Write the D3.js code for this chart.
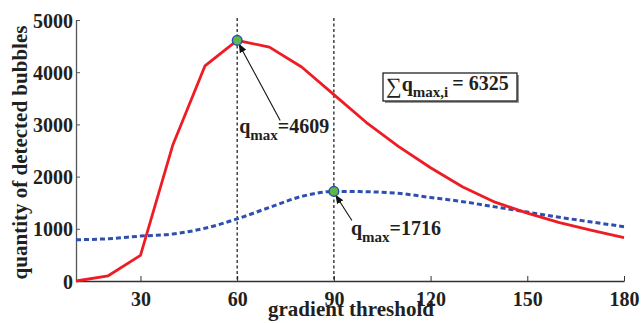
<!DOCTYPE html>
<html>
<head>
<meta charset="utf-8">
<script src="https://cdn.jsdelivr.net/npm/d3@7"></script>
<style>
  body { margin: 0; background: #fff; }
</style>
</head>
<body>
<svg id="chart" width="642" height="323"></svg>
<script>
// data
const thresholds = [10, 20, 30, 40, 50, 60, 70, 80, 90, 100, 110, 120, 130, 140, 150, 160, 170, 180];
const redSeries = [0, 100, 490, 2600, 4120, 4609, 4480, 4100, 3570, 3040, 2580, 2170, 1800, 1510, 1300, 1120, 970, 830];
const blueSeries = [790, 810, 860, 900, 1010, 1190, 1410, 1620, 1716, 1710, 1680, 1600, 1520, 1420, 1320, 1220, 1130, 1040];
const xTicks = [30, 60, 90, 120, 150, 180];
const yTicks = [0, 1000, 2000, 3000, 4000, 5000];
const peaks = [
  { x: 60, y: 4609, label: "4609" },
  { x: 90, y: 1716, label: "1716" }
];
const sumLabel = "6325";

const FONT = "Liberation Serif";
const INK = "#231f20";

const svg = d3.select("#chart");
const mLeft = 76, mRight = 624, mTop = 20, mBottom = 281;

const x = d3.scaleLinear().domain([10, 180]).range([mLeft, mRight]);
const y = d3.scaleLinear().domain([0, 5000]).range([mBottom, mTop]);

// axes
const xAxis = svg.append("g")
  .attr("transform", "translate(0," + mBottom + ")")
  .call(d3.axisBottom(x).tickValues(xTicks).tickFormat(d3.format("d"))
    .tickSizeInner(-5).tickSizeOuter(0).tickPadding(9));
xAxis.attr("font-family", FONT);
xAxis.select(".domain").attr("stroke", "#333").attr("stroke-width", 1.3);
xAxis.selectAll(".tick line").attr("stroke", "#333");
xAxis.selectAll("text")
  .attr("fill", INK)
  .attr("font-size", 20).attr("font-weight", "bold").attr("dy", "0.78em");

const yAxis = svg.append("g")
  .attr("transform", "translate(" + mLeft + ",0)")
  .call(d3.axisLeft(y).tickValues(yTicks).tickFormat(d3.format("d"))
    .tickSizeInner(-4).tickSizeOuter(0).tickPadding(3));
yAxis.attr("font-family", FONT);
yAxis.select(".domain").attr("stroke", "#555").attr("stroke-width", 1.3);
yAxis.selectAll(".tick line").attr("stroke", "#555");
yAxis.selectAll("text")
  .attr("fill", INK)
  .attr("font-size", 20).attr("font-weight", "bold").attr("dy", "0.35em");

// axis titles
svg.append("text")
  .attr("x", (mLeft + mRight) / 2 + 1).attr("y", 316)
  .attr("font-family", FONT).attr("fill", INK)
  .attr("text-anchor", "middle").attr("font-size", 21).attr("font-weight", "bold")
  .text("gradient threshold");
svg.append("text")
  .attr("transform", "translate(27," + ((mTop + mBottom) / 2 + 2) + ") rotate(-90)")
  .attr("font-family", FONT).attr("fill", INK)
  .attr("text-anchor", "middle").attr("font-size", 21).attr("font-weight", "bold")
  .text("quantity of detected bubbles");

// vertical dashed guides at the peaks
svg.selectAll(".guide")
  .data(peaks)
  .enter()
  .append("line")
  .attr("class", "guide")
  .attr("x1", d => x(d.x)).attr("x2", d => x(d.x))
  .attr("y1", y(5000) - 2).attr("y2", mBottom)
  .attr("stroke", "#111").attr("stroke-width", 1.2).attr("stroke-dasharray", "3,2.5");

svg.append("path")
  .datum(blueSeries)
  .attr("d", d3.line().x((d, i) => x(thresholds[i])).y(d => y(d)).curve(d3.curveMonotoneX))
  .attr("fill", "none")
  .attr("stroke", "#2f4fb0")
  .attr("stroke-width", 3)
  .attr("stroke-dasharray", "5,3");

svg.append("path")
  .datum(redSeries)
  .attr("d", d3.line().x((d, i) => x(thresholds[i])).y(d => y(d)))
  .attr("fill", "none")
  .attr("stroke", "#ee1c24")
  .attr("stroke-width", 2.8)
  .attr("stroke-linejoin", "round");

// arrowhead
svg.append("defs").append("marker")
  .attr("id", "arrow")
  .attr("viewBox", "0 0 10 10")
  .attr("refX", 9).attr("refY", 5)
  .attr("markerWidth", 9).attr("markerHeight", 9)
  .attr("markerUnits", "userSpaceOnUse")
  .attr("orient", "auto")
  .append("path")
  .attr("d", "M0,1 L10,5 L0,9 Z")
  .attr("fill", "#111");

// annotation positions relative to each peak
const annot = [
  { dx: 43, dy: 80, tx: 2, ty: 93 },
  { dx: 18, dy: 29, tx: 17, ty: 44 }
];

svg.selectAll(".arrow")
  .data(peaks)
  .enter()
  .append("line")
  .attr("x1", (d, i) => x(d.x) + annot[i].dx)
  .attr("y1", (d, i) => y(d.y) + annot[i].dy)
  .attr("x2", d => x(d.x) + 2)
  .attr("y2", d => y(d.y) + 4)
  .attr("stroke", "#111").attr("stroke-width", 1.1)
  .attr("marker-end", "url(#arrow)");

svg.selectAll(".peak")
  .data(peaks)
  .enter()
  .append("circle")
  .attr("cx", d => x(d.x)).attr("cy", d => y(d.y))
  .attr("r", 4.8)
  .attr("fill", "#5cb848")
  .attr("stroke", "#2f4fb0").attr("stroke-width", 1.5);

peaks.forEach((d, i) => {
  const t = svg.append("text")
    .attr("x", x(d.x) + annot[i].tx)
    .attr("y", y(d.y) + annot[i].ty)
    .attr("font-family", FONT).attr("fill", INK)
    .attr("font-size", 20).attr("font-weight", "bold");
  t.append("tspan").text("q");
  t.append("tspan").attr("font-size", 15).attr("dy", 7).text("max");
  t.append("tspan").attr("dy", -7).text("=" + d.label);
});

// sum box
const box = svg.append("g").attr("transform", "translate(383,73)");
box.append("rect").attr("x", 2).attr("y", 2).attr("width", 134).attr("height", 28).attr("fill", "#999");
box.append("rect").attr("width", 134).attr("height", 28).attr("fill", "#fff").attr("stroke", "#111").attr("stroke-width", 1.2);
const st = box.append("text").attr("x", 3).attr("y", 18)
  .attr("font-family", FONT).attr("fill", INK)
  .attr("font-size", 20).attr("font-weight", "bold");
st.append("tspan").attr("font-size", 22).attr("font-weight", "normal").attr("dy", 2).text("\u2211");
st.append("tspan").attr("dy", -2).text("q");
st.append("tspan").attr("font-size", 15).attr("dy", 6).text("max,i");
st.append("tspan").attr("dy", -7).attr("dx", 4).text("= " + sumLabel);
</script>
</body>
</html>
